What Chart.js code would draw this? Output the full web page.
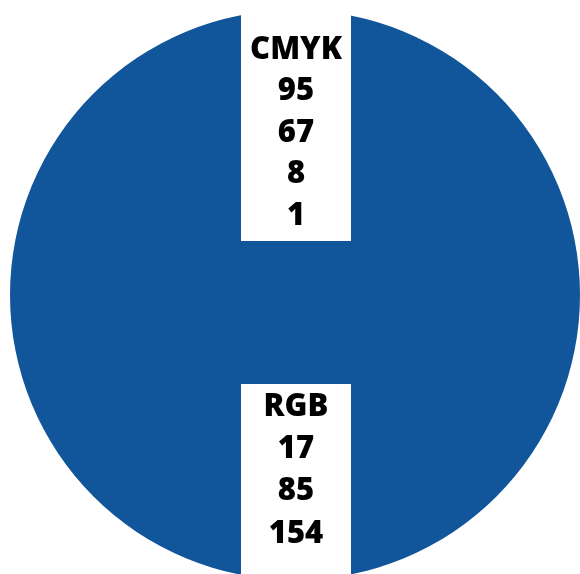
<!DOCTYPE html>
<html>
<head>
<meta charset="utf-8">
<script src="https://cdn.jsdelivr.net/npm/chart.js@4"></script>
<style>
  html, body { margin: 0; padding: 0; background: #fff; overflow: hidden; }
  #wrap { width: 590px; height: 590px; }
</style>
</head>
<body>
<div id="wrap"><canvas id="myChart"></canvas></div>
<script>
var colorName = ["Blue"];
var colorValue = [1];
var cmykLabel = "CMYK";
var cmykValues = [95, 67, 8, 1];
var rgbLabel = "RGB";
var rgbValues = [17, 85, 154];

// white boxes with the colour codes, centred on the pie
var codeBoxes = {
  id: 'codeBoxes',
  afterDraw: function(chart) {
    var arc = chart.getDatasetMeta(0).data[0];
    var cx = arc.x, cy = arc.y;
    var c = chart.ctx;
    c.save();
    c.fillStyle = '#fff';
    c.fillRect(cx - 54, 0, 110, cy - 54);
    c.fillRect(cx - 54, cy + 89, 110, chart.height);
    c.fillStyle = '#000';
    c.font = '800 31px "Open Sans"';
    c.textAlign = 'center';
    c.textBaseline = 'middle';
    var top = [cmykLabel].concat(cmykValues);
    top.forEach(function(t, i) {
      c.fillText(String(t), cx + 1, cy - 245 + i * 41.5);
    });
    var bottom = [rgbLabel].concat(rgbValues);
    bottom.forEach(function(t, i) {
      c.fillText(String(t), cx + 1, cy + 112 + i * 42.3);
    });
    c.restore();
  }
};

var ctx = document.getElementById("myChart").getContext('2d');
var myChart = new Chart(ctx, {
  type: 'pie',
  data: {
    labels: colorName,
    datasets: [{
      backgroundColor: ["#11559A"],
      borderWidth: 0,
      data: colorValue
    }]
  },
  options: {
    responsive: true,
    maintainAspectRatio: false,
    animation: false,
    layout: { padding: 10 },
    plugins: {
      legend: { display: false },
      tooltip: { enabled: false }
    }
  },
  plugins: [codeBoxes]
});
</script>
</body>
</html>
